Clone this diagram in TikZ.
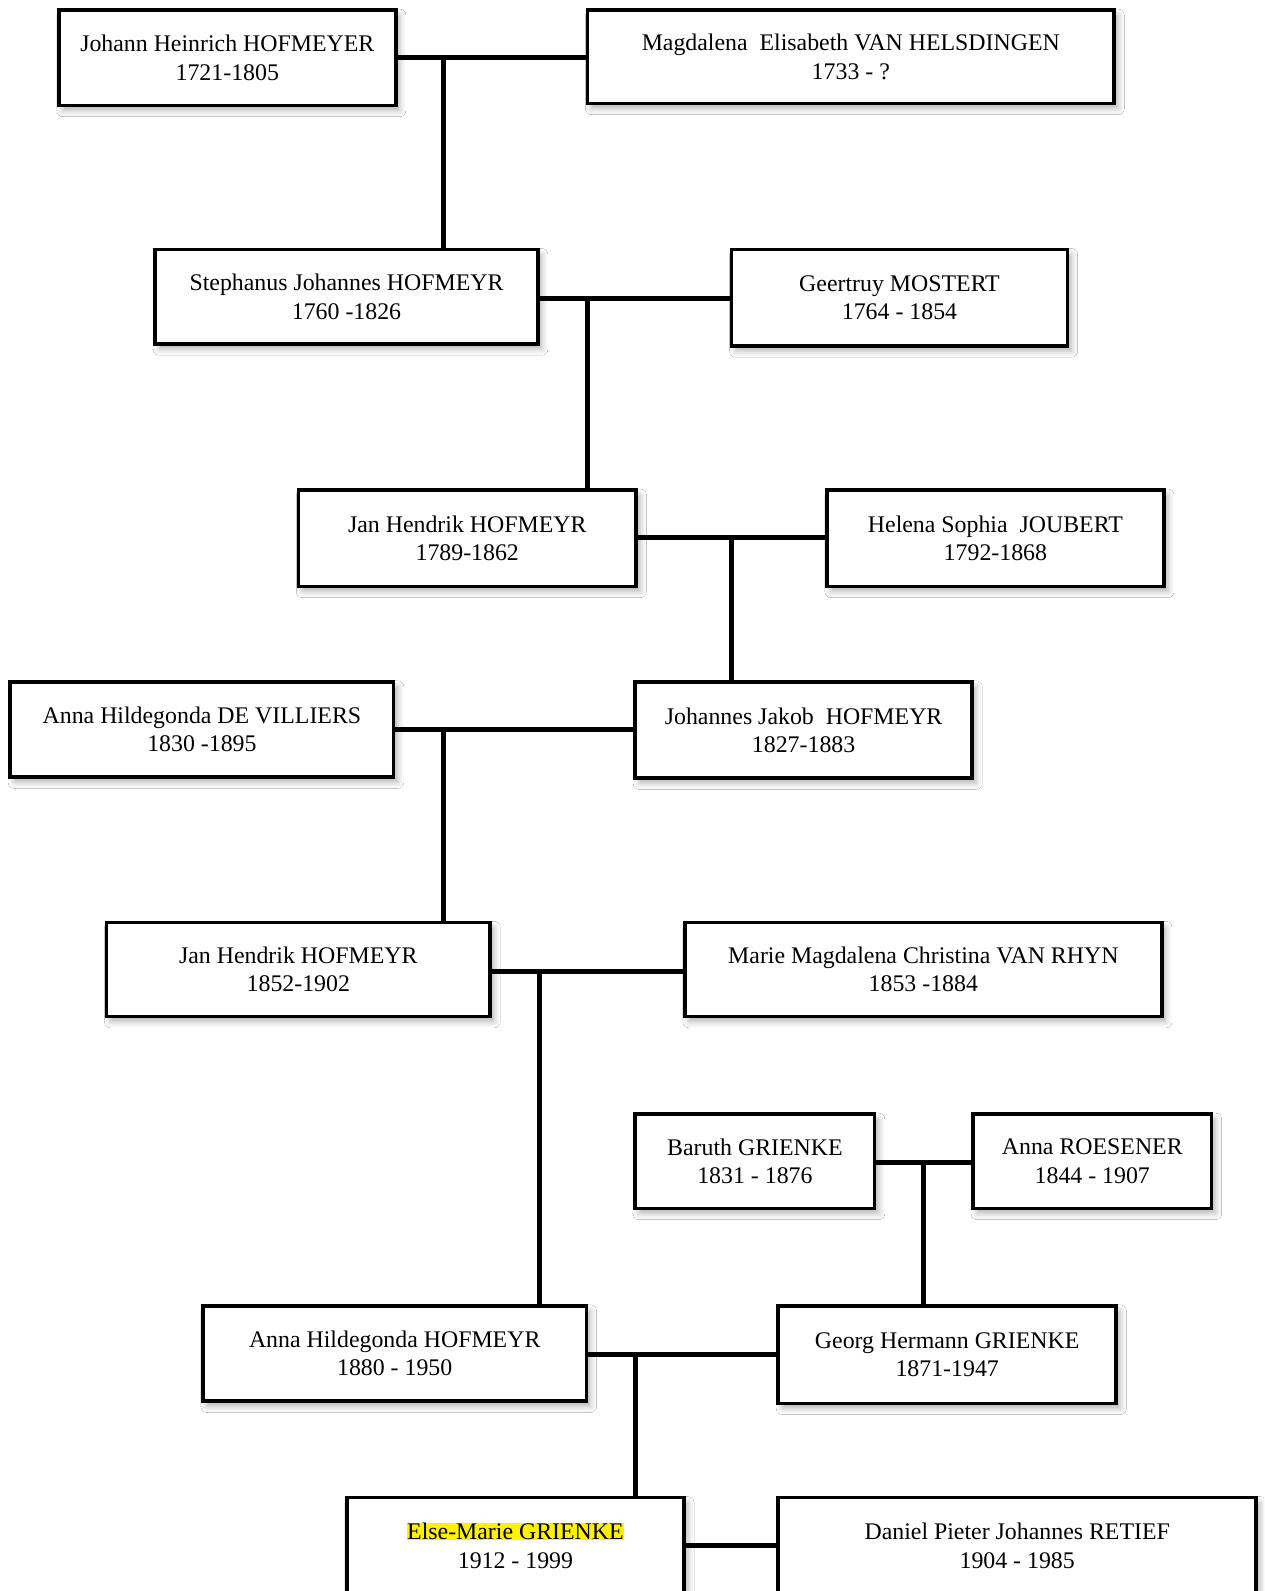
\documentclass[tikz,border=0pt]{standalone}
\usepackage{fontspec}
\setmainfont{Liberation Serif}
\usetikzlibrary{shadows.blur}
\begin{document}
\begin{tikzpicture}[x=1pt,y=-1pt,
  person/.style={draw=black, line width=3.5pt, fill=white, align=center,
    font=\fontsize{23.5}{28}\selectfont, inner sep=0pt,
    blur shadow={shadow xshift=4pt, shadow yshift=-5pt, shadow blur radius=6pt, shadow opacity=30}},
  link/.style={line width=5pt, line cap=butt}]
\path[use as bounding box] (0,0) rectangle (1246,1568);
\clip (0,0) rectangle (1246,1568);
\fill[white] (0,0) rectangle (1246,1568);

\node[person, minimum width=332pt, minimum height=94pt] (A) at (224,57) {Johann Heinrich HOFMEYER\\1721-1805};
\node[person, minimum width=519pt, minimum height=92pt] (B) at (838.5,56) {Magdalena\ \ Elisabeth VAN HELSDINGEN\\1733 - ?};
\node[person, minimum width=377pt, minimum height=93pt] (C) at (341.5,292.5) {Stephanus Johannes HOFMEYR\\1760 -1826};
\node[person, minimum width=331pt, minimum height=95pt] (D) at (886.5,293.5) {Geertruy MOSTERT\\1764 - 1854};
\node[person, minimum width=333pt, minimum height=95pt] (E) at (460.5,530.5) {Jan Hendrik HOFMEYR\\1789-1862};
\node[person, minimum width=332pt, minimum height=95pt] (F) at (981,530.5) {Helena Sophia\ \ JOUBERT\\1792-1868};
\node[person, minimum width=378pt, minimum height=94pt] (G) at (199,719) {Anna Hildegonda DE VILLIERS\\1830 -1895};
\node[person, minimum width=332pt, minimum height=95pt] (H) at (792,719.5) {Johannes Jakob\ \ HOFMEYR\\1827-1883};
\node[person, minimum width=378pt, minimum height=93pt] (I) at (294,955.5) {Jan Hendrik HOFMEYR\\1852-1902};
\node[person, minimum width=470pt, minimum height=93pt] (J) at (910,955.5) {Marie Magdalena Christina VAN RHYN\\1853 -1884};
\node[person, minimum width=236pt, minimum height=93pt] (K) at (744,1144.5) {Baruth GRIENKE\\1831 - 1876};
\node[person, minimum width=235pt, minimum height=93pt] (L) at (1076.5,1144.5) {Anna ROESENER\\1844 - 1907};
\node[person, minimum width=378pt, minimum height=94pt] (M) at (389,1334) {Anna Hildegonda HOFMEYR\\1880 - 1950};
\node[person, minimum width=333pt, minimum height=96pt] (N) at (933.5,1335) {Georg Hermann GRIENKE\\1871-1947};
\node[person, minimum width=332pt, minimum height=95pt] (O) at (508,1523.5) {{\setlength{\fboxsep}{0pt}\colorbox{yellow}{Else-Marie GRIENKE}}\\1912 - 1999};
\node[person, minimum width=471pt, minimum height=95pt] (P) at (1002.5,1523.5) {Daniel Pieter Johannes RETIEF\\1904 - 1985};

\coordinate (jA) at (437,57);
\coordinate (jC) at (579,294);
\coordinate (jE) at (721,530);
\coordinate (jG) at (437,719);
\coordinate (jI) at (532,957);
\coordinate (jK) at (910,1146);
\coordinate (jM) at (626,1335);

\draw[link] (A.east |- jA) -- (B.west |- jA);
\draw[link] (jA) -- (C.north -| jA);
\draw[link] (C.east |- jC) -- (D.west |- jC);
\draw[link] (jC) -- (E.north -| jC);
\draw[link] (E.east |- jE) -- (F.west |- jE);
\draw[link] (jE) -- (H.north -| jE);
\draw[link] (G.east |- jG) -- (H.west |- jG);
\draw[link] (jG) -- (I.north -| jG);
\draw[link] (I.east |- jI) -- (J.west |- jI);
\draw[link] (jI) -- (M.north -| jI);
\draw[link] (K.east |- jK) -- (L.west |- jK);
\draw[link] (jK) -- (N.north -| jK);
\draw[link] (M.east |- jM) -- (N.west |- jM);
\draw[link] (jM) -- (O.north -| jM);
\draw[link] (O.east) -- (P.west |- O.east);
\end{tikzpicture}
\end{document}
